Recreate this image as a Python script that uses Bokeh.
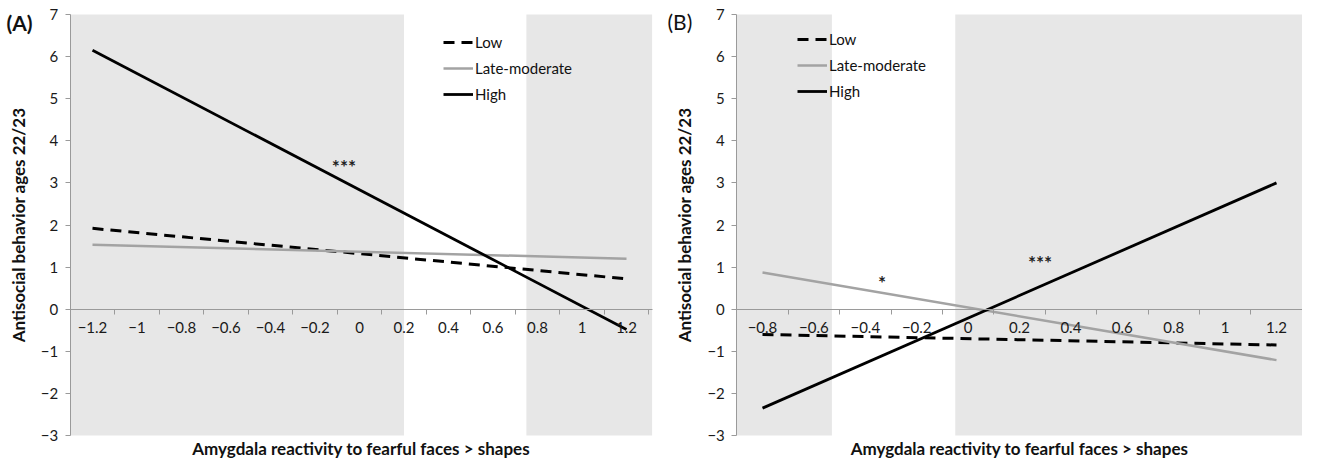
from bokeh.plotting import figure
from bokeh.models import (Range1d, LinearAxis, FixedTicker, Legend, LegendItem,
                          Label, ColumnDataSource)
from bokeh.layouts import row
from bokeh.core.properties import value
from bokeh.embed import file_html
from bokeh.resources import INLINE

FONT = "Lato"

# ---------------- data ----------------
series_names = ["Low", "Late-moderate", "High"]

y_ticks = [-3, -2, -1, 0, 1, 2, 3, 4, 5, 6, 7]
y_tick_labels = ["\u22123", "\u22122", "\u22121", "0", "1", "2", "3", "4", "5", "6", "7"]

# Panel A
a_x = [-1.2, 1.2]
a_low = [1.92, 0.72]
a_late = [1.53, 1.20]
a_high = [6.15, -0.48]
a_cats = [-1.2, -1.0, -0.8, -0.6, -0.4, -0.2, 0.0, 0.2, 0.4, 0.6, 0.8, 1.0, 1.2]
a_cat_labels = ["\u22121.2", "\u22121", "\u22120.8", "\u22120.6", "\u22120.4", "\u22120.2",
                "0", "0.2", "0.4", "0.6", "0.8", "1", "1.2"]
a_tick_marks = [-1.3, -1.1, -0.9, -0.7, -0.5, -0.3, -0.1, 0.1, 0.3, 0.5, 0.7, 0.9, 1.1, 1.3]
a_bounds = (-1.3, 1.315)
a_shade_from = [-1.3, 0.75]
a_shade_to = [0.2, 1.315]
a_annot_x = [-0.07]
a_annot_y = [3.4]
a_annot_text = ["***"]

# Panel B
b_x = [-0.8, 1.2]
b_low = [-0.60, -0.85]
b_late = [0.87, -1.21]
b_high = [-2.35, 3.00]
b_cats = [-0.8, -0.6, -0.4, -0.2, 0.0, 0.2, 0.4, 0.6, 0.8, 1.0, 1.2]
b_cat_labels = ["\u22120.8", "\u22120.6", "\u22120.4", "\u22120.2", "0", "0.2", "0.4",
                "0.6", "0.8", "1", "1.2"]
b_tick_marks = [-0.9, -0.7, -0.5, -0.3, -0.1, 0.1, 0.3, 0.5, 0.7, 0.9, 1.1, 1.3]
b_bounds = (-0.9, 1.3)
b_shade_from = [-0.9, -0.05]
b_shade_to = [-0.53, 1.3]
b_annot_x = [-0.335, 0.28]
b_annot_y = [0.64, 1.10]
b_annot_text = ["*", "***"]

x_title = "Amygdala reactivity to fearful faces > shapes"
y_title = "Antisocial behavior ages 22/23"

# ---------------- style / layout ----------------
AXIS_COLOR = "#9a9a9a"
SHADE = "#e7e7e7"
LATE_COLOR = "#a3a3a3"
TEXT_COLOR = "#111111"

FIG_H = 458
Y7_PX = 14            # canvas y of value 7
Y_PX = 42.1           # px per y unit
Y_TOP = 7 + Y7_PX / Y_PX
Y_BOT = 7 - (FIG_H - Y7_PX) / Y_PX
XTITLE_Y_PX = 448


def make_panel(width, anchor_x, anchor_px, x_px, bounds,
               xs, low, late, high, cats, cat_labels, tick_marks,
               shade_from, shade_to, ann_x, ann_y, ann_t,
               panel_label, label_bold, label_px, legend_px):
    def to_x(px):
        return anchor_x + (px - anchor_px) / x_px

    def to_y(py):
        return 7 - (py - Y7_PX) / Y_PX

    p = figure(x_range=Range1d(to_x(0), to_x(width)), y_range=Range1d(Y_BOT, Y_TOP),
               frame_width=width, frame_height=FIG_H,
               min_border=0, x_axis_location=None, y_axis_location=None,
               output_backend="svg", toolbar_location=None,
               outline_line_color=None, background_fill_color="white",
               border_fill_color="white")
    p.grid.visible = False

    # shaded regions
    p.quad(left=shade_from, right=shade_to, bottom=[y_ticks[0]] * len(shade_from),
           top=[y_ticks[-1]] * len(shade_from), fill_color=SHADE, line_color=None)

    # y axis at the left edge of the plot area
    ya = LinearAxis(fixed_location=bounds[0], bounds=(y_ticks[0], y_ticks[-1]),
                    ticker=FixedTicker(ticks=y_ticks),
                    axis_line_color=AXIS_COLOR, major_tick_line_color=AXIS_COLOR,
                    minor_tick_line_color=None, major_tick_out=5, major_tick_in=0,
                    major_label_standoff=7, major_label_text_font=FONT,
                    major_label_text_font_size="15px",
                    major_label_text_color="#1a1a1a",
                    axis_label=y_title, axis_label_text_font=FONT,
                    axis_label_text_font_size="17px",
                    axis_label_text_font_style="bold",
                    axis_label_text_color=TEXT_COLOR, axis_label_standoff=9)
    ya.major_label_overrides = dict(zip([float(t) for t in y_ticks], y_tick_labels))
    p.add_layout(ya, "left")

    # x axis line at y = 0 with tick marks between categories
    xa = LinearAxis(fixed_location=0, bounds=bounds, ticker=FixedTicker(ticks=tick_marks),
                    axis_line_color=AXIS_COLOR, major_tick_line_color=AXIS_COLOR,
                    minor_tick_line_color=None, major_tick_out=5, major_tick_in=0,
                    major_label_text_alpha=0)
    p.add_layout(xa, "below")
    # category labels
    xl = LinearAxis(fixed_location=0, bounds=bounds, ticker=FixedTicker(ticks=cats),
                    axis_line_color=None, major_tick_line_color=None,
                    minor_tick_line_color=None, major_tick_out=0, major_tick_in=0,
                    major_label_standoff=13, major_label_text_font=FONT,
                    major_label_text_font_size="15px",
                    major_label_text_color="#1a1a1a")
    xl.major_label_overrides = dict(zip([float(c) for c in cats], cat_labels))
    p.add_layout(xl, "below")

    r_low = p.line(xs, low, line_color="black", line_width=3, line_dash="11 7")
    r_late = p.line(xs, late, line_color=LATE_COLOR, line_width=2.5)
    r_high = p.line(xs, high, line_color="black", line_width=2.8)

    src = ColumnDataSource(dict(x=ann_x, y=ann_y, t=ann_t))
    p.text(x="x", y="y", text="t", source=src, text_font=value(FONT),
           text_font_size="19px", text_font_style="bold", text_align="center",
           text_baseline="middle", text_color="#222222")

    # x-axis title, centred under the plot area
    p.add_layout(Label(x=(bounds[0] + bounds[1]) / 2, y=to_y(XTITLE_Y_PX),
                       text=x_title, text_font=FONT, text_font_size="17px",
                       text_font_style="bold", text_color=TEXT_COLOR,
                       text_align="center", text_baseline="middle"))

    # panel letter
    lpx, lpy = label_px
    p.add_layout(Label(x=to_x(lpx), y=to_y(lpy),
                       text=panel_label, text_font=FONT, text_font_size="21px",
                       text_font_style="bold" if label_bold else "normal",
                       text_baseline="middle", text_align="left",
                       text_color=TEXT_COLOR))

    gx, gy = legend_px
    legend = Legend(items=[LegendItem(label=series_names[0], renderers=[r_low]),
                           LegendItem(label=series_names[1], renderers=[r_late]),
                           LegendItem(label=series_names[2], renderers=[r_high])],
                    location=(gx, FIG_H - gy - 72),
                    orientation="vertical",
                    background_fill_alpha=0, border_line_alpha=0,
                    padding=0, margin=0, spacing=6,
                    glyph_width=30, glyph_height=20, label_height=20,
                    label_standoff=2, label_text_font=FONT,
                    label_text_font_size="15px", label_text_color=TEXT_COLOR)
    p.add_layout(legend)
    return p


# panel A occupies canvas x 0..655, panel B 655..1302 (coordinates local to each panel)
pa = make_panel(655, -1.2, 92, 222.5, a_bounds,
                a_x, a_low, a_late, a_high, a_cats, a_cat_labels, a_tick_marks,
                a_shade_from, a_shade_to, a_annot_x, a_annot_y, a_annot_text,
                "(A)", True, (6, 22), (443, 32))
pb = make_panel(647, -0.8, 762 - 655, 257.0, b_bounds,
                b_x, b_low, b_late, b_high, b_cats, b_cat_labels, b_tick_marks,
                b_shade_from, b_shade_to, b_annot_x, b_annot_y, b_annot_text,
                "(B)", False, (667 - 655, 21), (797 - 655, 29))

layout = row(pa, pb, spacing=0)
open("out.html", "w").write(file_html(layout, INLINE))
